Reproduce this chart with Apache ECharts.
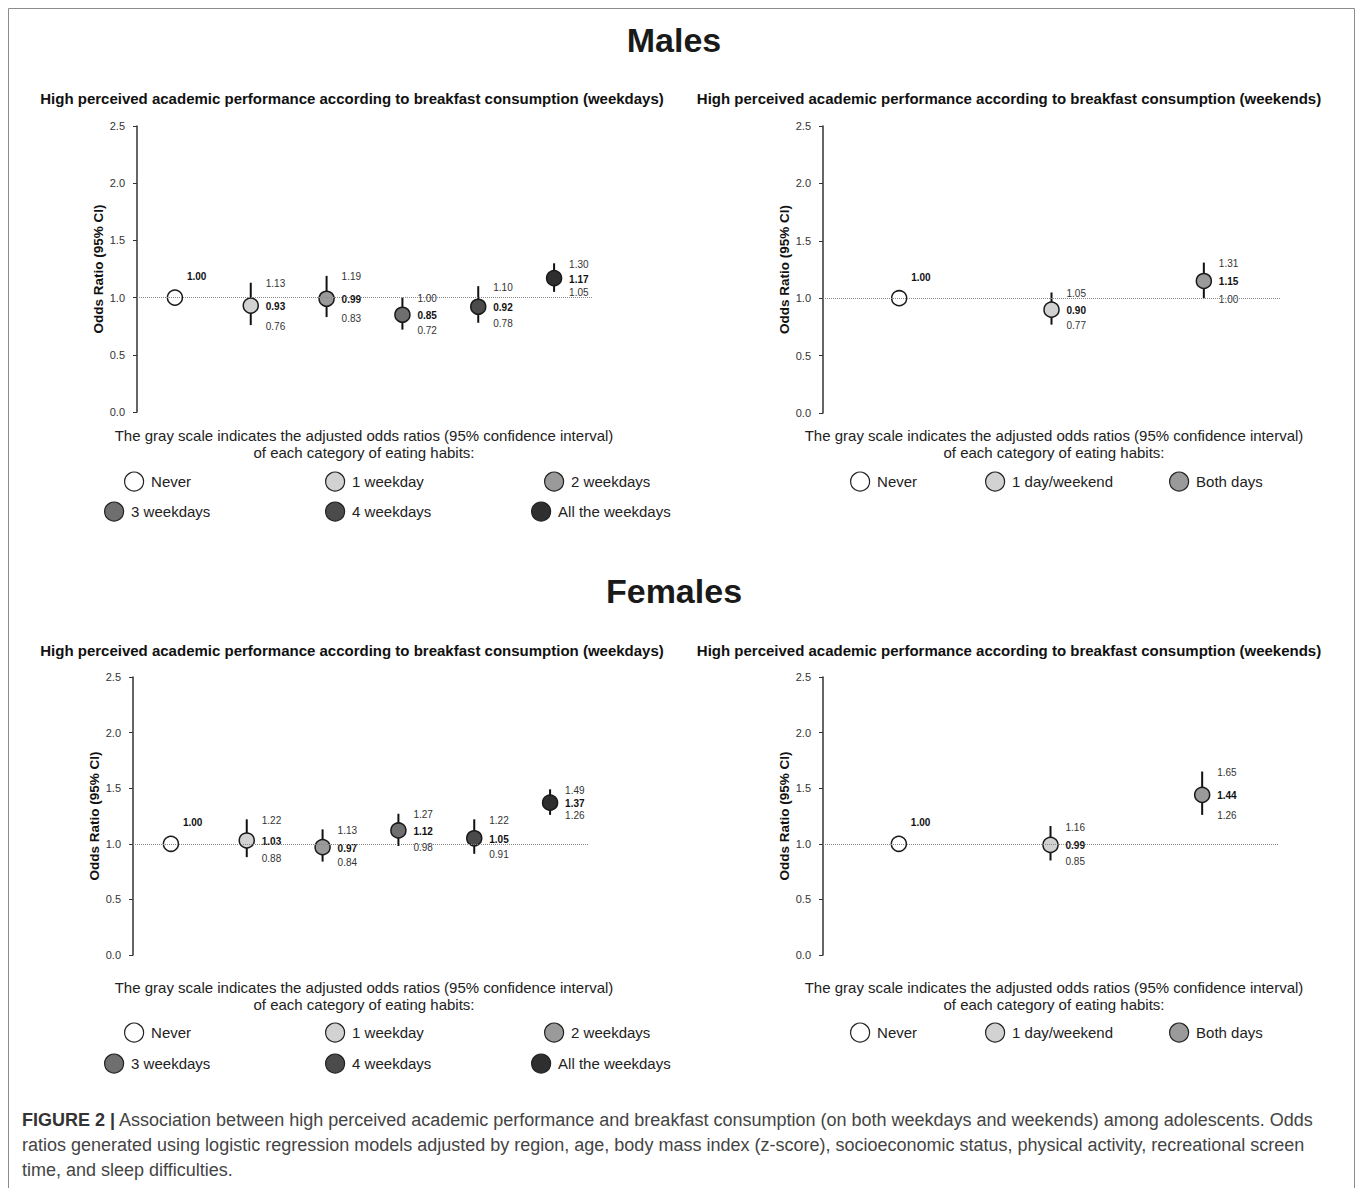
<!DOCTYPE html>
<html>
<head>
<meta charset="utf-8">
<script src="https://cdn.jsdelivr.net/npm/echarts@6/dist/echarts.min.js"></script>
<style>
html,body{margin:0;padding:0;background:#fff;}
#chart{width:1358px;height:1188px;}
</style>
</head>
<body>
<div id="chart"></div>
<script>
// ---------------- DATA ----------------
const weekdayCategories = ['Never', '1 weekday', '2 weekdays', '3 weekdays', '4 weekdays', 'All the weekdays'];
const weekendCategories = ['Never', '1 day/weekend', 'Both days'];

const maleWeekdayOR    = [1.00, 0.93, 0.99, 0.85, 0.92, 1.17];
const maleWeekdayLower = [null, 0.76, 0.83, 0.72, 0.78, 1.05];
const maleWeekdayUpper = [null, 1.13, 1.19, 1.00, 1.10, 1.30];

const maleWeekendOR    = [1.00, 0.90, 1.15];
const maleWeekendLower = [null, 0.77, 1.00];
const maleWeekendUpper = [null, 1.05, 1.31];

const femaleWeekdayOR    = [1.00, 1.03, 0.97, 1.12, 1.05, 1.37];
const femaleWeekdayLower = [null, 0.88, 0.84, 0.98, 0.91, 1.26];
const femaleWeekdayUpper = [null, 1.22, 1.13, 1.27, 1.22, 1.49];

const femaleWeekendOR    = [1.00, 0.99, 1.44];
const femaleWeekendLower = [null, 0.85, 1.26];
const femaleWeekendUpper = [null, 1.16, 1.65];

const yAxisMin = 0, yAxisMax = 2.5, yAxisStep = 0.5;
const referenceOR = 1.0;

const titleMales = 'Males';
const titleFemales = 'Females';
const subtitleWeekdays = 'High perceived academic performance according to breakfast consumption (weekdays)';
const subtitleWeekends = 'High perceived academic performance according to breakfast consumption (weekends)';
const yAxisTitle = 'Odds Ratio (95% CI)';
const noteLine1 = 'The gray scale indicates the adjusted odds ratios (95% confidence interval)';
const noteLine2 = 'of each category of eating habits:';
const captionLines = [
  'Association between high perceived academic performance and breakfast consumption (on both weekdays and weekends) among adolescents. Odds',
  'ratios generated using logistic regression models adjusted by region, age, body mass index (z-score), socioeconomic status, physical activity, recreational screen',
  'time, and sleep difficulties.'
];
const captionLabel = 'FIGURE 2 |';

// ---------------- STYLE / LAYOUT ----------------
const FONT = "'Liberation Sans', Arial, Helvetica, sans-serif";
const weekdayColors = ['#ffffff', '#d2d2d2', '#9a9a9a', '#6f6f6f', '#4b4b4b', '#2f2f2f'];
const weekendColors = ['#ffffff', '#d2d2d2', '#9a9a9a'];

const panels = [
  { cats: weekdayCategories, colors: weekdayColors, or: maleWeekdayOR, lo: maleWeekdayLower, hi: maleWeekdayUpper,
    grid: {left: 137, top: 126, width: 455, height: 286},
    legend: [[136,481],[337,481],[556,481],[116,511],[337,511],[543,511]] },
  { cats: weekendCategories, colors: weekendColors, or: maleWeekendOR, lo: maleWeekendLower, hi: maleWeekendUpper,
    grid: {left: 823, top: 126, width: 457, height: 287},
    legend: [[862,481],[997,481],[1181,481]] },
  { cats: weekdayCategories, colors: weekdayColors, or: femaleWeekdayOR, lo: femaleWeekdayLower, hi: femaleWeekdayUpper,
    grid: {left: 133, top: 677, width: 455, height: 278},
    legend: [[136,1032],[337,1032],[556,1032],[116,1063],[337,1063],[543,1063]] },
  { cats: weekendCategories, colors: weekendColors, or: femaleWeekendOR, lo: femaleWeekendLower, hi: femaleWeekendUpper,
    grid: {left: 823, top: 677, width: 455, height: 278},
    legend: [[862,1032],[997,1032],[1181,1032]] }
];

const grids = [], xAxes = [], yAxes = [], series = [], legends = [];

panels.forEach((p, k) => {
  grids.push(Object.assign({containLabel: false}, p.grid));
  xAxes.push({
    type: 'category', gridIndex: k, data: p.cats, boundaryGap: true,
    axisLine: {show: false}, axisTick: {show: false}, axisLabel: {show: false}, splitLine: {show: false}
  });
  yAxes.push({
    type: 'value', gridIndex: k, min: yAxisMin, max: yAxisMax, interval: yAxisStep,
    name: yAxisTitle, nameLocation: 'middle', nameGap: 32,
    nameTextStyle: {fontFamily: FONT, fontWeight: 'bold', fontSize: 13.5, color: '#111'},
    axisLine: {show: true, lineStyle: {color: '#333', width: 1.5}},
    axisTick: {show: true, length: 4, lineStyle: {color: '#333', width: 1}},
    axisLabel: {fontFamily: FONT, fontSize: 11, color: '#333', margin: 12, formatter: v => v.toFixed(1)},
    splitLine: {show: false}
  });
  // error bars and value labels
  series.push({
    type: 'custom', xAxisIndex: k, yAxisIndex: k, z: 2, silent: true,
    data: p.cats.map((c, i) => [i, p.or[i], p.lo[i] == null ? '-' : p.lo[i], p.hi[i] == null ? '-' : p.hi[i]]),
    renderItem: function (params, api) {
      const i = api.value(0), or = api.value(1), lo = api.value(2), hi = api.value(3);
      const pt = api.coord([i, or]);
      const children = [];
      const txt = (t, x, y, bold) => ({
        type: 'text',
        style: {text: t, x: x, y: y, fill: bold ? '#111' : '#333', fontFamily: FONT, fontSize: 10,
                fontWeight: bold ? 'bold' : 'normal', align: 'left', verticalAlign: 'middle'}
      });
      if (isFinite(lo) && isFinite(hi)) {
        const pl = api.coord([i, lo]), ph = api.coord([i, hi]);
        children.push({type: 'line', shape: {x1: pt[0], y1: ph[1], x2: pt[0], y2: pl[1]},
                       style: {stroke: '#111', lineWidth: 2}});
        children.push(txt(hi.toFixed(2), pt[0] + 15, ph[1] + 1, false));
        children.push(txt(or.toFixed(2), pt[0] + 15, pt[1] + 1, true));
        children.push(txt(lo.toFixed(2), pt[0] + 15, pl[1] + 1, false));
      } else {
        children.push(txt(or.toFixed(2), pt[0] + 12, pt[1] - 21, true));
      }
      return {type: 'group', children: children};
    },
    markLine: {
      silent: true, symbol: 'none', label: {show: false},
      lineStyle: {color: '#888', type: 'dotted', width: 1},
      data: [{yAxis: referenceOR}]
    }
  });
  p.cats.forEach((c, i) => {
    series.push({
      type: 'scatter', name: c, xAxisIndex: k, yAxisIndex: k, z: 3, silent: true,
      symbol: 'circle', symbolSize: 15,
      itemStyle: {color: p.colors[i], borderColor: '#1a1a1a', borderWidth: 1.5, opacity: 1},
      data: [[i, p.or[i]]]
    });
    const pos = p.legend[i];
    legends.push({
      data: [c], left: pos[0] - 12, top: pos[1] - 9.5, padding: 0,
      icon: 'circle', itemWidth: 24, itemHeight: 19, selectedMode: false,
      itemStyle: {borderColor: '#222', borderWidth: 1.2},
      textStyle: {fontFamily: FONT, fontSize: 15, color: '#222'}
    });
  });
});

function centerText(t, x, y, size, weight, color) {
  return {type: 'text', x: 0, y: 0, silent: true,
    style: {text: t, x: x, y: y, fill: color || '#111', fontFamily: FONT, fontSize: size,
            fontWeight: weight || 'normal', align: 'center', verticalAlign: 'middle'}};
}

const graphics = [
  {type: 'rect', silent: true, z: -10, shape: {x: 8.5, y: 8.5, width: 1346, height: 1200},
   style: {fill: 'none', stroke: '#8c8c8c', lineWidth: 1}},
  centerText(titleMales, 674, 40, 34, 'bold', '#1a1a1a'),
  centerText(titleFemales, 674, 591, 34, 'bold', '#1a1a1a'),
  centerText(subtitleWeekdays, 352, 98, 15, 'bold', '#111'),
  centerText(subtitleWeekends, 1009, 98, 15, 'bold', '#111'),
  centerText(subtitleWeekdays, 352, 650, 15, 'bold', '#111'),
  centerText(subtitleWeekends, 1009, 650, 15, 'bold', '#111'),
  centerText(noteLine1, 364, 435, 15, 'normal', '#222'),
  centerText(noteLine2, 364, 452, 15, 'normal', '#222'),
  centerText(noteLine1, 1054, 435, 15, 'normal', '#222'),
  centerText(noteLine2, 1054, 452, 15, 'normal', '#222'),
  centerText(noteLine1, 364, 987, 15, 'normal', '#222'),
  centerText(noteLine2, 364, 1004, 15, 'normal', '#222'),
  centerText(noteLine1, 1054, 987, 15, 'normal', '#222'),
  centerText(noteLine2, 1054, 1004, 15, 'normal', '#222'),
  {type: 'text', silent: true,
   style: {text: '{b|' + captionLabel + '} ' + captionLines[0], x: 22, y: 1120, fill: '#444',
           fontFamily: FONT, fontSize: 18, align: 'left', verticalAlign: 'middle',
           rich: {b: {fontWeight: 'bold', fill: '#333', color: '#333', fontFamily: FONT, fontSize: 18}}}},
  {type: 'text', silent: true,
   style: {text: captionLines[1], x: 22, y: 1145, fill: '#444', fontFamily: FONT, fontSize: 18,
           align: 'left', verticalAlign: 'middle'}},
  {type: 'text', silent: true,
   style: {text: captionLines[2], x: 22, y: 1170, fill: '#444', fontFamily: FONT, fontSize: 18,
           align: 'left', verticalAlign: 'middle'}}
];

const chart = echarts.init(document.getElementById('chart'), null, {renderer: 'svg'});
chart.setOption({
  animation: false,
  backgroundColor: '#ffffff',
  textStyle: {fontFamily: FONT},
  grid: grids,
  xAxis: xAxes,
  yAxis: yAxes,
  legend: legends,
  series: series,
  graphic: graphics
});
</script>
</body>
</html>
